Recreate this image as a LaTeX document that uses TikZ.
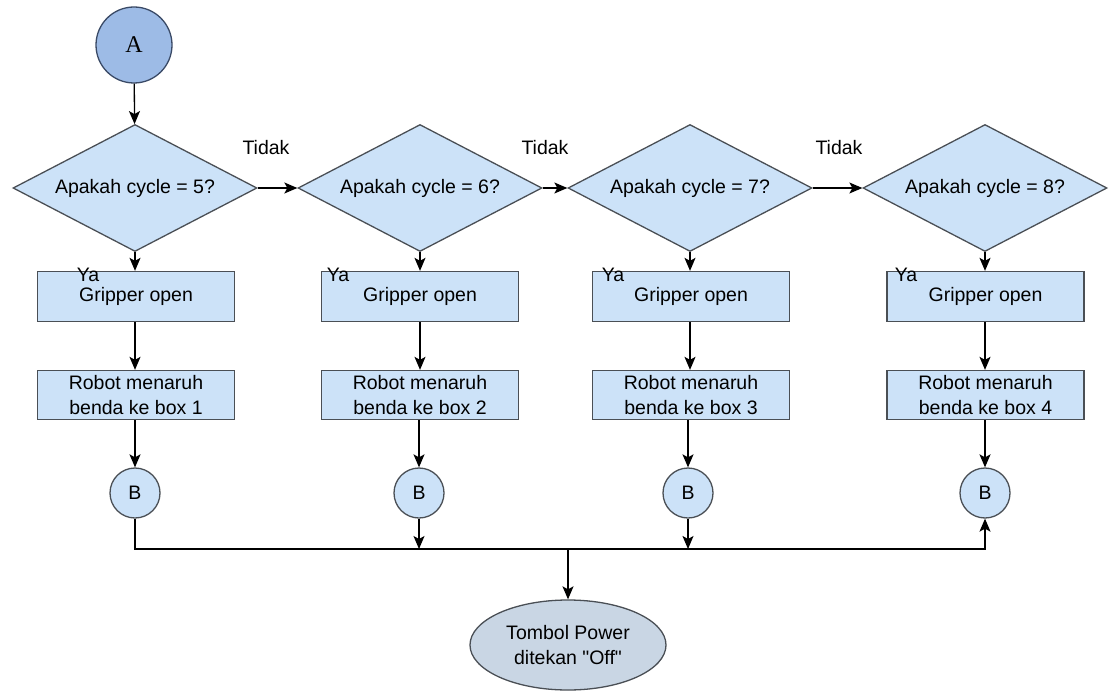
\documentclass[tikz,border=0pt]{standalone}
\usepackage{fontspec}
\setmainfont{Liberation Sans}
\newfontfamily\serifA{Liberation Serif}
\newfontfamily\plainsans{Liberation Sans}
\usetikzlibrary{shapes.geometric,arrows.meta}
\definecolor{boxfill}{HTML}{CCE2F8}
\definecolor{boxline}{HTML}{4A4F55}
\definecolor{afill}{HTML}{9DBBE6}
\definecolor{aline}{HTML}{3A4A66}
\definecolor{endfill}{HTML}{C9D6E4}
\tikzset{
  base/.style={draw=boxline, line width=1.3pt, fill=boxfill, inner sep=0pt, font=\fontsize{19.5}{25}\selectfont},
  decision/.style={base, diamond, shape aspect=1.92, minimum width=244pt, minimum height=127pt},
  procbox/.style={base, rectangle, minimum width=197pt, minimum height=50pt, align=center},
  conn/.style={base, circle, minimum size=50pt},
  lbl/.style={font=\fontsize{19.5}{23}\selectfont, inner sep=0pt},
  arr/.style={draw=black, line width=1.3pt, -{Stealth[length=13pt,width=11pt,inset=3pt]}},
  ln/.style={draw=black, line width=1.3pt}
}
\begin{document}
\begin{tikzpicture}[x=1pt,y=-1pt]
\useasboundingbox (0,0) rectangle (1115,695);
% start connector
\node[circle, draw=aline, line width=1.3pt, fill=afill, minimum size=76pt, inner sep=0pt, font=\serifA\fontsize{24}{28}\selectfont] (A) at (134,45) {A};
% decisions
\node[decision] (d1) at (135,188) {Apakah cycle = 5?};
\node[decision] (d2) at (420,188) {Apakah cycle = 6?};
\node[decision] (d3) at (690,188) {Apakah cycle = 7?};
\node[decision] (d4) at (985,188) {Apakah cycle = 8?};
% gripper boxes
\node[procbox] (g1) at (136,296.5) {Gripper open};
\node[procbox] (g2) at (420,296.5) {Gripper open};
\node[procbox] (g3) at (691,296.5) {Gripper open};
\node[procbox] (g4) at (985.5,296.5) {Gripper open};
% robot boxes
\node[procbox, minimum height=49pt] (r1) at (136,395) {Robot menaruh\\benda ke box 1};
\node[procbox, minimum height=49pt] (r2) at (420,395) {Robot menaruh\\benda ke box 2};
\node[procbox, minimum height=49pt] (r3) at (691,395) {Robot menaruh\\benda ke box 3};
\node[procbox, minimum height=49pt] (r4) at (985.5,395) {Robot menaruh\\benda ke box 4};
% B connectors
\node[conn] (b1) at (135,493) {B};
\node[conn] (b2) at (419,493) {B};
\node[conn] (b3) at (688,493) {B};
\node[conn] (b4) at (985,493) {B};
% end
\node[base, ellipse, fill=endfill, minimum width=196pt, minimum height=90pt, align=center, font=\plainsans\fontsize{19.5}{25}\selectfont] (off) at (568,645) {Tombol Power\\ditekan "Off"};
% labels
\node[lbl] (t1) at (266,148) {Tidak};
\node[lbl] (t2) at (545,148) {Tidak};
\node[lbl] (t3) at (839,148) {Tidak};
\node[lbl] (y1) at (88,275) {Ya};
\node[lbl] (y2) at (338,275) {Ya};
\node[lbl] (y3) at (613,275) {Ya};
\node[lbl] (y4) at (906,275) {Ya};
% connectors
\draw[arr] (A) -- (d1);
\draw[arr] (d1.east) -- (d2.west);
\draw[arr] (d2.east) -- (d3.west);
\draw[arr] (d3.east) -- (d4.west);
\foreach \i in {1,2,3,4}{
  \draw[arr] (d\i.south) -- (d\i.south |- g\i.north);
  \draw[arr] (g\i.south -| d\i.south) -- (r\i.north -| d\i.south);
  \draw[arr] (r\i.south -| b\i.north) -- (b\i.north);
}
\coordinate (j4) at (985,549);
\draw[arr] (b1.south) |- (j4) -- (b4.south);
\draw[arr] (b2.south) -- (b2.south |- j4);
\draw[arr] (b3.south) -- (b3.south |- j4);
\draw[arr] (off.north |- j4) -- (off.north);
\end{tikzpicture}
\end{document}
